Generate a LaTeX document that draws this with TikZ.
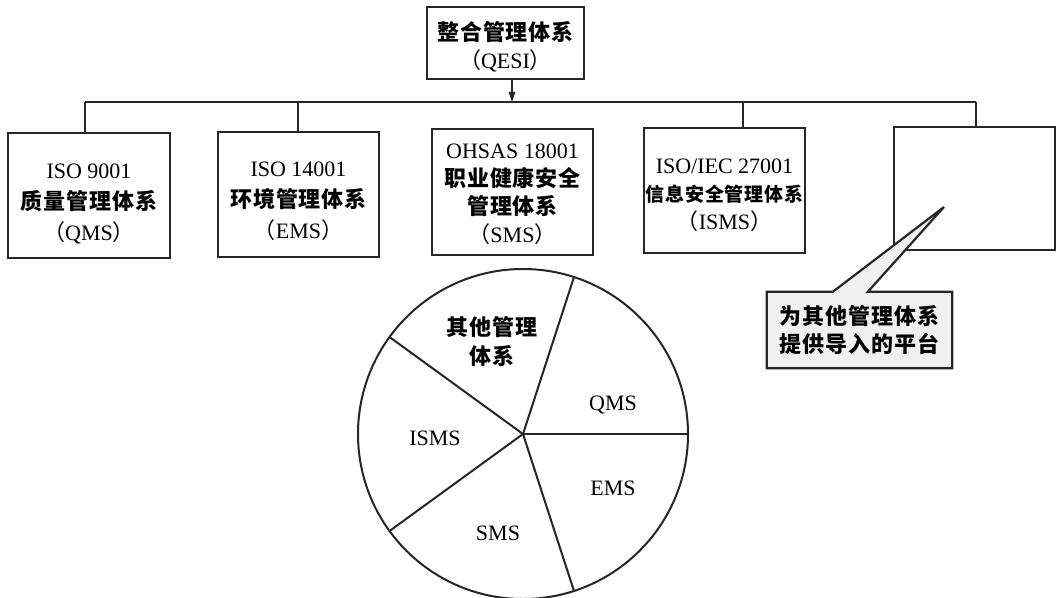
\documentclass[tikz,border=0pt]{standalone}
\usepackage{fontspec}
\setmainfont{Liberation Serif}
\newfontfamily\cjk[LetterSpace=4]{Noto Sans CJK SC}
\usetikzlibrary{arrows.meta,calc,backgrounds}
\newcommand\zh[1]{{\cjk\bfseries #1}}
\newcommand\lpar{{\cjk （}}
\newcommand\rpar{{\cjk ）}}
\begin{document}
\begin{tikzpicture}[x=1pt,y=-1pt,
  box/.style={draw=black!85, line width=2.2pt, fill=white, inner sep=0pt},
  wide/.style={font=\fontsize{22}{31}\selectfont, align=center, inner sep=0pt},
  tight/.style={font=\fontsize{22}{28}\selectfont, align=center, inner sep=0pt},
  conn/.style={draw=black!85, line width=1.1pt},
  pie/.style={draw=black!85, line width=2pt},
  lbl/.style={font=\fontsize{22}{29}\selectfont, align=center, inner sep=0pt}
]
\begin{scope}[on background layer]
\fill[white] (0,0) rectangle (1057,597);
\end{scope}
\useasboundingbox (0,0) rectangle (1057,597);

% top box
\node[box, minimum width=157pt, minimum height=72pt,
  label={[tight, yshift=-4pt]center:\zh{整合管理体系}\\\lpar QESI\rpar}] (top) at (505.5,43) {};

% five boxes
\node[box, minimum width=162pt, minimum height=125pt,
  label={[wide, yshift=-8pt]center:ISO 9001\\\zh{质量管理体系}\\\lpar QMS\rpar}] (b1) at (89,195.5) {};
\node[box, minimum width=161pt, minimum height=125pt,
  label={[wide, yshift=-7pt]center:ISO 14001\\\zh{环境管理体系}\\\lpar EMS\rpar}] (b2) at (298.5,194.5) {};
\node[box, minimum width=161pt, minimum height=126pt,
  label={[tight, yshift=-2pt]center:OHSAS 18001\\\zh{职业健康安全}\\\zh{管理体系}\\\lpar SMS\rpar}] (b3) at (512.5,192) {};
\node[box, minimum width=161pt, minimum height=125pt,
  label={[tight, yshift=-5pt]center:ISO/IEC 27001\\{\fontsize{19}{28}\selectfont\zh{信息安全管理体系}}\\\lpar ISMS\rpar}] (b4) at (724.5,190.5) {};
\node[box, minimum width=161pt, minimum height=123pt] (b5) at (974.5,188.5) {};

% bus
\coordinate (j1) at (85,102);
\coordinate (j2) at (298,102);
\coordinate (ja) at (512,102);
\coordinate (j4) at (743,102);
\coordinate (j5) at (976,102);
\draw[conn] (j1) -- (j5);
\draw[conn] (j1) -- (j1 |- b1.north);
\draw[conn] (j2) -- (j2 |- b2.north);
\draw[conn] (j4) -- (j4 |- b4.north);
\draw[conn] (j5) -- (j5 |- b5.north);
\draw[conn, -{Triangle[length=10pt,width=6.5pt]}] (top.south -| ja) -- (ja);

% callout
\coordinate (tip) at (944,207);
\node[minimum width=185pt, minimum height=76pt, inner sep=0pt] (note) at (859.5,330) {};
\path[fill=gray!12, draw=black!85, line width=2.2pt, line join=miter]
  (note.north west) -- ($(note.north west)+(66,0)$) -- (tip) -- ($(note.north west)+(101,0)$)
  -- (note.north east) -- (note.south east) -- (note.south west) -- cycle;
\node[tight] (notetext) at (note.center) {\zh{为其他管理体系}\\\zh{提供导入的平台}};

% pie
\coordinate (pc) at (523,434);
\draw[pie] (pc) circle[radius=165pt];
\foreach \a in {0,72,144,216,288} \draw[pie] (pc) -- ($(pc)+(\a:165pt)$);
\node[lbl] (p1) at (492,342) {\zh{其他管理}\\\zh{体系}};
\node[lbl] (p2) at (613,405) {QMS};
\node[lbl] (p3) at (613,488) {EMS};
\node[lbl] (p4) at (498,533) {SMS};
\node[lbl] (p5) at (435,438) {ISMS};
\end{tikzpicture}
\end{document}
